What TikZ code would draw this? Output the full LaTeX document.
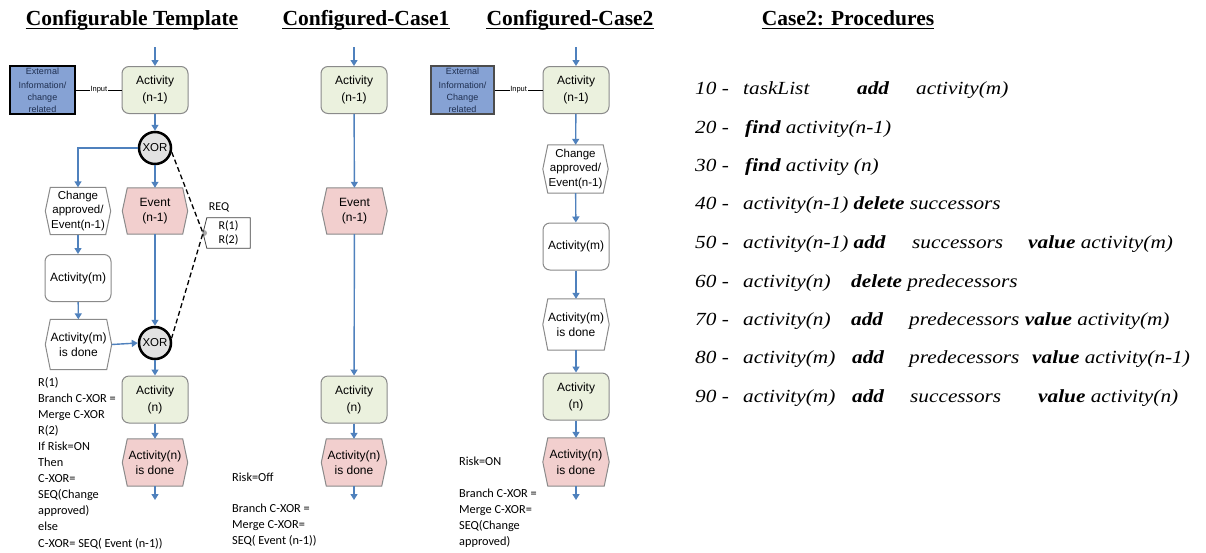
\documentclass[tikz,border=0pt]{standalone}
\usepackage{fontspec}
\setmainfont{Liberation Serif}
\setsansfont{Liberation Sans}
\newfontfamily\notefont{Carlito}
\newfontfamily\procfont{Liberation Serif}[FakeStretch=1.15]
\usetikzlibrary{arrows.meta,backgrounds,calc}
\definecolor{flowblue}{HTML}{4F81BD}
\definecolor{boxgray}{HTML}{8A8A8A}
\definecolor{actgreen}{HTML}{EBF1DE}
\definecolor{evpink}{HTML}{F2CFCE}
\definecolor{extblue}{HTML}{86A2D4}
\definecolor{exttext}{HTML}{1F2F50}
\definecolor{xorgray}{HTML}{E2E2E2}
\newcommand\hexdraw[2]{%
  \begin{scope}[on background layer]
    \filldraw[fill=#2, draw=boxgray, line width=1pt]
      (#1.west) -- ([xshift=5pt]#1.north west) -- ([xshift=-5pt]#1.north east)
      -- (#1.east) -- ([xshift=-5pt]#1.south east) -- ([xshift=5pt]#1.south west) -- cycle;
  \end{scope}}
\begin{document}
\begin{tikzpicture}[x=1pt,y=-1pt,
  flow/.style={draw=flowblue, line width=1.4pt, -{Triangle[length=6pt,width=7pt]}},
  actbox/.style={draw=boxgray, line width=1pt, rounded corners=7pt, fill=actgreen,
    minimum width=66pt, minimum height=47pt, inner sep=1pt, align=center,
    font=\sffamily\fontsize{12}{17}\selectfont},
  wbox/.style={actbox, fill=white},
  hexlbl/.style={minimum width=65pt, minimum height=46pt, inner sep=0pt, align=center,
    font=\sffamily\fontsize{12}{15.5}\selectfont},
  chglbl/.style={hexlbl, minimum height=47pt, font=\sffamily\fontsize{11.5}{14.5}\selectfont},
  xorc/.style={circle, draw=black, line width=2.5pt, fill=xorgray, minimum size=32pt,
    inner sep=0pt, font=\sffamily\fontsize{11.5}{12}\selectfont},
  extbox/.style={fill=extblue, minimum width=65pt, minimum height=48pt, inner sep=0pt,
    align=center, text=exttext, font=\sffamily\fontsize{9}{11.6}\selectfont},
  inlbl/.style={fill=white, inner sep=0.6pt, font=\sffamily\fontsize{7.5}{8}\selectfont},
  note/.style={anchor=base west, inner sep=0pt, font=\notefont\fontsize{12.3}{16}\selectfont},
  ttl/.style={anchor=base, inner sep=0pt, font=\rmfamily\bfseries\fontsize{21.5}{24}\selectfont},
  ul/.style={line width=1.2pt},
  proc/.style={anchor=base west, inner sep=0pt, font=\procfont\itshape\fontsize{18.5}{22}\selectfont}]
\begin{scope}[on background layer]
  \fill[white] (0,0) rectangle (1206,552);
\end{scope}
\useasboundingbox (0,0) rectangle (1206,552);

% ---------- titles ----------
\node[ttl] (t1) at (132,25) {Configurable Template};
\node[ttl] (t2) at (366,25) {Configured-Case1};
\node[ttl] (t3) at (570,25) {Configured-Case2};
\node[ttl] (t4) at (848,25) {Case2: Procedures};
\foreach \t in {t1,t2,t3,t4}
  \draw[ul] ([yshift=-3.5pt]\t.base west) -- ([yshift=-3.5pt]\t.base east);

% ---------- Configurable template ----------
\coordinate (in1) at (155,47);
\node[actbox] (act1) at (155,90) {Activity\\(n-1)};
\node[extbox, draw=black, line width=2.6pt] (ext1) at (42.5,90)
  {\raisebox{3pt}{External}\\Information/\\change\\related};
\node[xorc] (xor1) at (155,148) {XOR};
\node[chglbl] (chg1) at (78,211) {Change\\approved/\\Event(n-1)};
\hexdraw{chg1}{white}
\node[hexlbl] (ev1) at (155,211) {Event\\(n-1)};
\hexdraw{ev1}{evpink}
\node[wbox] (actm1) at (78,278) {Activity(m)};
\node[hexlbl, minimum width=66pt, minimum height=50pt] (actmd1) at (78.5,344.5) {Activity(m)\\is done};
\hexdraw{actmd1}{white}
\node[xorc] (xor2) at (155,343) {XOR};
\node[actbox] (actn1) at (155,399.5) {Activity\\(n)};
\node[hexlbl, minimum height=47pt] (actnd1) at (155,462.5) {Activity(n)\\is done};
\hexdraw{actnd1}{evpink}
\coordinate (out1) at (155,500);

\draw[flow] (in1) -- (act1);
\draw[flow] (act1) -- (xor1);
\draw[flow] (xor1) -- (ev1);
\draw[flow] (xor1.west) -| (chg1.north);
\draw[flow] (chg1) -- (actm1);
\draw[flow] (actm1) -- (actmd1);
\draw[flow] (actmd1.east) -- (xor2.west);
\draw[flow] (ev1) -- (xor2);
\draw[flow] (xor2) -- (actn1);
\draw[flow] (actn1) -- (actnd1);
\draw[flow] (actnd1) -- (out1);
\draw[line width=1pt] (ext1.east) -- node[inlbl] (inp1) {Input} (act1.west);

% REQ
\node[inner sep=0pt, font=\notefont\fontsize{12}{13}\selectfont] (reqlbl) at (219,207) {REQ};
\node[minimum width=43pt, minimum height=30pt, inner sep=0pt, align=center,
  font=\notefont\fontsize{12}{14}\selectfont] (req) at (228.5,233) {R(1)\\R(2)};
\coordinate (reqtip) at (203,233);
\draw[line width=0.8pt, draw=black!75] (req.north west) -- (req.north east) -- (req.south east)
  -- (req.south west) -- (reqtip) -- cycle;
\fill[gray!70] ([xshift=1pt]reqtip) ++(0,-3) arc[start angle=90, end angle=-90, radius=3pt] -- cycle;
\draw[dashed, line width=1.3pt, dash pattern=on 5pt off 3pt] (xor1.-14) -- (reqtip) -- (xor2.16);

% notes
\foreach \l [count=\i] in {R(1), Branch C-XOR =, Merge C-XOR, R(2), If Risk=ON, Then, C-XOR=,
  SEQ(Change, approved), else, C-XOR= SEQ( Event (n-1))}
  \node[note] (na\i) at (38,{382+4+(\i-1)*16.1}) {\l};

% ---------- Configured-Case1 ----------
\coordinate (in2) at (354,47);
\node[actbox] (act2) at (354,90) {Activity\\(n-1)};
\node[hexlbl] (ev2) at (354.5,211) {Event\\(n-1)};
\hexdraw{ev2}{evpink}
\node[actbox] (actn2) at (354,399.5) {Activity\\(n)};
\node[hexlbl, minimum height=47pt] (actnd2) at (354,462.5) {Activity(n)\\is done};
\hexdraw{actnd2}{evpink}
\coordinate (out2) at (354,500);
\draw[flow] (in2) -- (act2);
\draw[flow] (act2) -- (ev2);
\draw[flow] (ev2) -- (actn2);
\draw[flow] (actn2) -- (actnd2);
\draw[flow] (actnd2) -- (out2);
\node[note] (nb0) at (232,481) {Risk=Off};
\foreach \l [count=\i] in {Branch C-XOR =, Merge C-XOR=, SEQ( Event (n-1))}
  \node[note] (nb\i) at (232,{508+4+(\i-1)*16}) {\l};

% ---------- Configured-Case2 ----------
\coordinate (in3) at (576,47);
\node[actbox] (act3) at (576,90) {Activity\\(n-1)};
\node[extbox, minimum width=63pt, draw=black!70, line width=1.6pt] (ext3) at (462.5,90)
  {\raisebox{3pt}{External}\\Information/\\Change\\related};
\node[chglbl, minimum height=48pt] (chg3) at (575.5,169) {Change\\approved/\\Event(n-1)};
\hexdraw{chg3}{white}
\node[wbox, minimum height=47pt] (actm3) at (576,246.5) {Activity(m)};
\node[hexlbl, minimum width=66pt, minimum height=51pt] (actmd3) at (576,324.5) {Activity(m)\\is done};
\hexdraw{actmd3}{white}
\node[actbox] (actn3) at (576,396.5) {Activity\\(n)};
\node[hexlbl, minimum width=66pt, minimum height=48pt] (actnd3) at (576,462) {Activity(n)\\is done};
\hexdraw{actnd3}{evpink}
\coordinate (out3) at (576,500);
\draw[flow] (in3) -- (act3);
\draw[flow] (act3) -- (chg3);
\draw[flow] (chg3) -- (actm3);
\draw[flow] (actm3) -- (actmd3);
\draw[flow] (actmd3) -- (actn3);
\draw[flow] (actn3) -- (actnd3);
\draw[flow] (actnd3) -- (out3);
\draw[line width=1pt] (ext3.east) -- node[inlbl] (inp3) {Input} (act3.west);
\node[note] (nc0) at (459,465) {Risk=ON};
\foreach \l [count=\i] in {Branch C-XOR =, Merge C-XOR=, SEQ(Change, approved)}
  \node[note] (nc\i) at (459,{493+4+(\i-1)*16}) {\l};

% ---------- Procedures ----------
\node[proc] (p10a) at (695,94) {10 -};
\node[proc] (p10b) at (743,94) {taskList};
\node[proc] (p10c) at (857,94) {\textbf{add}};
\node[proc] (p10d) at (916,94) {activity(m)};

\node[proc] (p20a) at (695,133) {20 -};
\node[proc] (p20b) at (745,133) {\textbf{find} activity(n-1)};

\node[proc] (p30a) at (695,171) {30 -};
\node[proc] (p30b) at (745,171) {\textbf{find} activity (n)};

\node[proc] (p40a) at (695,209) {40 -};
\node[proc] (p40b) at (743,209) {activity(n-1) \textbf{delete} successors};

\node[proc] (p50a) at (695,248) {50 -};
\node[proc] (p50b) at (743,248) {activity(n-1) \textbf{add}};
\node[proc] (p50c) at (912,248) {successors};
\node[proc] (p50d) at (1028,248) {\textbf{value} activity(m)};

\node[proc] (p60a) at (695,287) {60 -};
\node[proc] (p60b) at (743,287) {activity(n)};
\node[proc] (p60c) at (851,287) {\textbf{delete} predecessors};

\node[proc] (p70a) at (695,325) {70 -};
\node[proc] (p70b) at (743,325) {activity(n)};
\node[proc] (p70c) at (851,325) {\textbf{add}};
\node[proc] (p70d) at (909,325) {predecessors \textbf{value} activity(m)};

\node[proc] (p80a) at (695,363) {80 -};
\node[proc] (p80b) at (743,363) {activity(m)};
\node[proc] (p80c) at (852,363) {\textbf{add}};
\node[proc] (p80d) at (909,363) {predecessors};
\node[proc] (p80e) at (1032,363) {\textbf{value} activity(n-1)};

\node[proc] (p90a) at (695,402) {90 -};
\node[proc] (p90b) at (743,402) {activity(m)};
\node[proc] (p90c) at (852,402) {\textbf{add}};
\node[proc] (p90d) at (910,402) {successors};
\node[proc] (p90e) at (1038,402) {\textbf{value} activity(n)};
\end{tikzpicture}
\end{document}
